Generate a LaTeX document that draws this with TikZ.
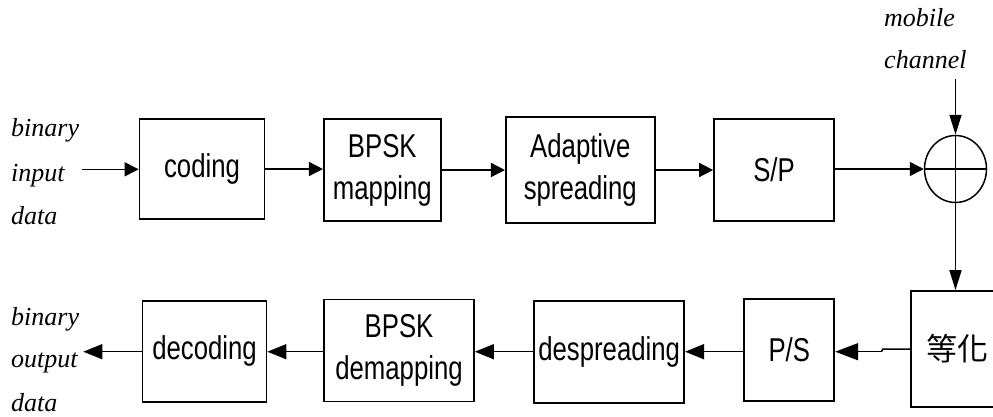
\documentclass[tikz,border=0pt]{standalone}
\usepackage{fontspec}
\usetikzlibrary{arrows.meta,shapes.geometric}
\newfontfamily\boxfont[FakeStretch=0.78]{Liberation Sans}
\newfontfamily\labelfont{Liberation Serif}
\newfontfamily\cjkfont{Noto Sans CJK TC}

\begin{document}
\begin{tikzpicture}[x=1pt,y=-1pt,
  box/.style={draw,line width=1.7pt,inner sep=0pt,align=center,
    font=\boxfont\fontsize{33}{42}\selectfont},
  lbl/.style={anchor=base west,inner sep=0pt,
    font=\labelfont\itshape\fontsize{26}{26}\selectfont},
  wire/.style={line width=1.5pt},
  tipS/.style={wire,-{Triangle[length=14pt,width=14pt]}},
  tipL/.style={wire,-{Triangle[length=19pt,width=15pt]}},
  tipV/.style={wire,-{Triangle[length=20pt,width=12pt]}},
  tipP/.style={wire,-{Triangle[length=23pt,width=17pt]}}
]
\useasboundingbox (0,0) rectangle (993,416);

% transmitter chain
\node[box,minimum width=125,minimum height=100] (coding) at (202,169) {coding};
\node[box,minimum width=117,minimum height=102] (map) at (382.3,170) {BPSK\\mapping};
\node[box,minimum width=149,minimum height=106] (spread) at (580.3,170.3) {Adaptive\\spreading};
\node[box,minimum width=120,minimum height=102] (sp) at (774,170) {S/P};
\node[draw,line width=1.5pt,ellipse,inner sep=0pt,minimum width=62,minimum height=67] (sum) at (955.5,169) {};

% receiver chain
\node[box,minimum width=94,minimum height=116,font=\cjkfont\fontsize{31}{31}\selectfont] (eq) at (957.7,349) {等化};
\node[box,minimum width=90,minimum height=102] (ps) at (789.3,350) {P/S};
\node[box,minimum width=150,minimum height=102] (despread) at (609.2,352.2) {despreading};
\node[box,minimum width=150,minimum height=102] (demap) at (399,350.5) {BPSK\\demapping};
\node[box,minimum width=124,minimum height=101] (decoding) at (204.5,351.3) {decoding};

% input / output / channel labels
\node[lbl] (in1) at (11,136.7) {binary};
\node[lbl] (in2) at (11,181) {input};
\node[lbl] (in3) at (11,224) {data};
\node[lbl] (out1) at (11,325) {binary};
\node[lbl] (out2) at (11,367) {output};
\node[lbl] (out3) at (11,411.5) {data};
\node[lbl] (ch1) at (884,26.7) {mobile};
\node[lbl] (ch2) at (884,68.3) {channel};

\coordinate (src) at (82,169.3);
\coordinate (sink) at (83.3,351.7);
\coordinate (chan) at (955.5,79);
\coordinate (j1) at (882.7,349);
\coordinate (j2) at (881.5,351.7);

% adder cross
\draw[wire] (sum.west) -- (sum.east);
\draw[wire] (sum.north) -- (sum.south);

% forward connectors
\draw[tipS] (src) -- (src -| coding.west);
\draw[tipS] (coding.east) -- (coding.east -| map.west);
\draw[tipS] (map.east) -- (map.east -| spread.west);
\draw[tipS] (spread.east |- sp.west) -- (sp.west);
\draw[tipS] (sp.east |- sum.west) -- (sum.west);
\draw[tipV] (chan) -- (sum.north);
\draw[tipV] (sum.south) -- (eq.north -| sum.south);

% return connectors
\draw[wire] (eq.west) -- (j1) -- (j2);
\draw[tipP] (j2) -- (j2 -| ps.east);
\draw[tipL] (ps.west |- j2) -- (j2 -| despread.east);
\draw[tipL] (despread.west |- j2) -- (j2 -| demap.east);
\draw[tipL] (demap.west |- j2) -- (j2 -| decoding.east);
\draw[tipL] (decoding.west |- sink) -- (sink);
\end{tikzpicture}
\end{document}
